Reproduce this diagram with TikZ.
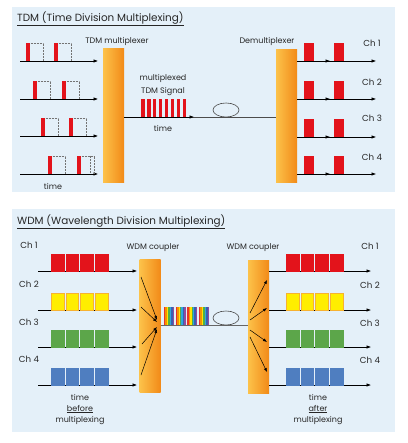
\documentclass[tikz,border=0pt]{standalone}
\usepackage{fontspec}
\setmainfont{Poppins}
\usetikzlibrary{arrows.meta,shapes.geometric}
\definecolor{bg}{HTML}{E4F0F9}
\definecolor{pred}{HTML}{E3131B}
\definecolor{pyel}{HTML}{FFEE00}
\definecolor{pyelb}{HTML}{F7B230}
\definecolor{pgrn}{HTML}{5CA64A}
\definecolor{pblu}{HTML}{4F7EC0}
\definecolor{barL}{HTML}{FCC24A}
\definecolor{barR}{HTML}{F28A18}
\definecolor{rb1}{HTML}{E8332A}
\definecolor{rb2}{HTML}{F39200}
\definecolor{rb3}{HTML}{FFE500}
\definecolor{rb4}{HTML}{4FAE4A}
\definecolor{rb5}{HTML}{2FA6DE}
\definecolor{rb6}{HTML}{3A5FB0}
\definecolor{rb7}{HTML}{8E4C9E}
\tikzset{
  x=1pt,y=-1pt,
  panel/.style={fill=bg,draw=none},
  muxbar/.style={draw=none,left color=barL,right color=barR,minimum width=21pt,inner sep=0pt},
  axis/.style={line width=0.6pt,-{Latex[length=4.5pt,width=3.5pt]}},
  fiber/.style={line width=0.6pt,draw=black!60},
  slot/.style={densely dotted,draw=black!55,line width=0.5pt},
  redbar/.style={fill=pred,draw=none},
  lbl/.style={font=\fontsize{8}{9}\selectfont,inner sep=0pt,text=black!85},
  chl/.style={font=\fontsize{8.7}{10}\selectfont,inner sep=0pt,text=black!85},
  ttl/.style={font=\fontsize{10.4}{13}\selectfont,inner sep=0pt,anchor=west,text=black!85},
  arr/.style={line width=0.5pt,-{Latex[length=4pt,width=3pt]}},
}
\begin{document}
\begin{tikzpicture}
\useasboundingbox (0,0) rectangle (407,443);
\fill[white] (0,0) rectangle (407,443);
% panels
\fill[panel] (12,7) rectangle (395,192);
\fill[panel] (12,209) rectangle (395,432);
% titles
\node[ttl] (t1) at (17,19) {\underline{TDM (Time Division Multiplexing)}};
\node[ttl] (t2) at (17,222) {\underline{WDM (Wavelength Division Multiplexing)}};

% ---------------- TDM ----------------
\node[muxbar,minimum height=134pt] (mux) at (113.5,116) {};
\node[muxbar,minimum height=133pt] (dmx) at (286.5,116.5) {};
\node[lbl] (muxl) at (117,42) {TDM multiplexer};
\node[lbl] (dmxl) at (267,42) {Demultiplexer};

% input lines with pulses
\foreach \y/\a/\b [count=\i] in {61/26/54, 99/33/62, 136/41/69, 174/48/77}{
  \coordinate (in\i) at (20,\y);
  \coordinate (ie\i) at (98,\y);
  \draw[axis] (in\i) -- (ie\i);
  \foreach \p in {\a,\b}{
    \draw[slot] (\p,\y) -- (\p,\y-18) -- (\p+17,\y-18) -- (\p+17,\y);
    \fill[redbar] (\p,\y) rectangle (\p+3.6,\y-18);
  }
}
\draw[slot] (86,156) -- (95,156);
\draw[slot] (90,156) -- (90,174);
\node[lbl] (tl) at (53,186) {time};

% multiplexed signal
\coordinate (mo) at (mux.east |- 0,117);
\coordinate (mi) at (dmx.west |- 0,117);
\coordinate (ma) at (194,117);
\draw[fiber,draw=black!70] (mo) -- (mi);
\draw[line width=0.6pt,-{Latex[length=4.5pt,width=3.5pt]}] (mo) -- (ma);
\foreach \k in {0,...,7}{
  \fill[redbar] (141+\k*5.93,117) rectangle (144.6+\k*5.93,99);
}
\node[lbl] (ml1) at (163,78) {multiplexed};
\node[lbl] (ml2) at (163,92) {TDM Signal};
\node[lbl] (ml3) at (163,128) {time};
\node[draw=black!70,line width=0.6pt,ellipse,minimum width=26pt,minimum height=14pt,inner sep=0pt] (loop1) at (226,110) {};

% outputs
\foreach \y/\c [count=\i] in {61/43, 99/82, 137/118, 174/157}{
  \coordinate (o\i) at (dmx.east |- 0,\y);
  \coordinate (oe\i) at (376,\y);
  \coordinate (om\i) at (330,\y);
  \draw[axis] (o\i) -- (oe\i);
  \draw[line width=0.6pt,-{Latex[length=4.5pt,width=3.5pt]}] (o\i) -- (om\i);
  \fill[redbar] (304,\y) rectangle (314,\y-18);
  \fill[redbar] (334,\y) rectangle (344,\y-18);
  \node[chl] (cho\i) at (372,\c) {Ch \i};
}

% ---------------- WDM ----------------
\node[muxbar,minimum height=133pt] (cpl) at (150,325.5) {};
\node[muxbar,minimum height=133pt] (cpr) at (258.5,326.5) {};
\node[lbl] (cpll) at (153,248) {WDM coupler};
\node[lbl] (cprl) at (253,248) {WDM coupler};

\foreach \y/\c/\col/\bcol [count=\i] in {271/245/pred/pred, 310/284/pyel/pyelb, 347/322/pgrn/pgrn, 385/359/pblu/pblu}{
  \node[chl] (chi\i) at (29,\c) {Ch \i};
  \node[chl] (chr\i) at (370,\c+1) {Ch \i};
  \coordinate (wl\i) at (38,\y);
  \coordinate (wle\i) at (137,\y);
  \coordinate (wr\i) at (cpr.east |- 0,\y);
  \coordinate (wre\i) at (371,\y);
  \draw[axis] (wl\i) -- (wle\i);
  \draw[axis] (wr\i) -- (wre\i);
  \foreach \k in {0,...,3}{
    \filldraw[fill=\col,draw=\bcol,line width=0.5pt] (51.5+\k*14.6,\y) rectangle (64+\k*14.6,\y-17);
    \filldraw[fill=\col,draw=\bcol,line width=0.5pt] (286.5+\k*14.6,\y) rectangle (299+\k*14.6,\y-17);
  }
}

% converging arrows
\draw[arr] (141,277) -- (157,320);
\draw[arr] (141,307) -- (157,322);
\draw[arr] (142,344) -- (157,327);
\draw[arr] (141,375) -- (157,329);
% diverging arrows
\draw[arr] (250,313) -- (267,280);
\draw[arr] (250,320) -- (267,308);
\draw[arr] (250,330) -- (267,342);
\draw[arr] (250,337) -- (267,372);

% fiber
\coordinate (fo) at (cpl.east |- 0,325);
\coordinate (fi) at (cpr.west |- 0,325);
\draw[fiber] (fo) -- (fi);
\node[draw=black!70,line width=0.6pt,ellipse,minimum width=26pt,minimum height=14pt,inner sep=0pt] (loop2) at (226,318) {};
\foreach \g in {0,1,2,3}{
  \foreach \col [count=\j from 0] in {rb1,rb2,rb3,rb4,rb5,rb6,rb7}{
    \fill[\col] (164+\g*11.6+\j*1.45,325) rectangle (165.5+\g*11.6+\j*1.45,307);
  }
}

% bottom labels
\node[lbl] (bt1) at (80,397) {time};
\node[lbl] (bt2) at (80,409) {\underline{before}};
\node[lbl] (bt3) at (80,421) {multiplexing};
\node[lbl] (at1) at (318,397) {time};
\node[lbl] (at2) at (318,409) {\underline{after}};
\node[lbl] (at3) at (318,421) {multiplexing};
\end{tikzpicture}
\end{document}
